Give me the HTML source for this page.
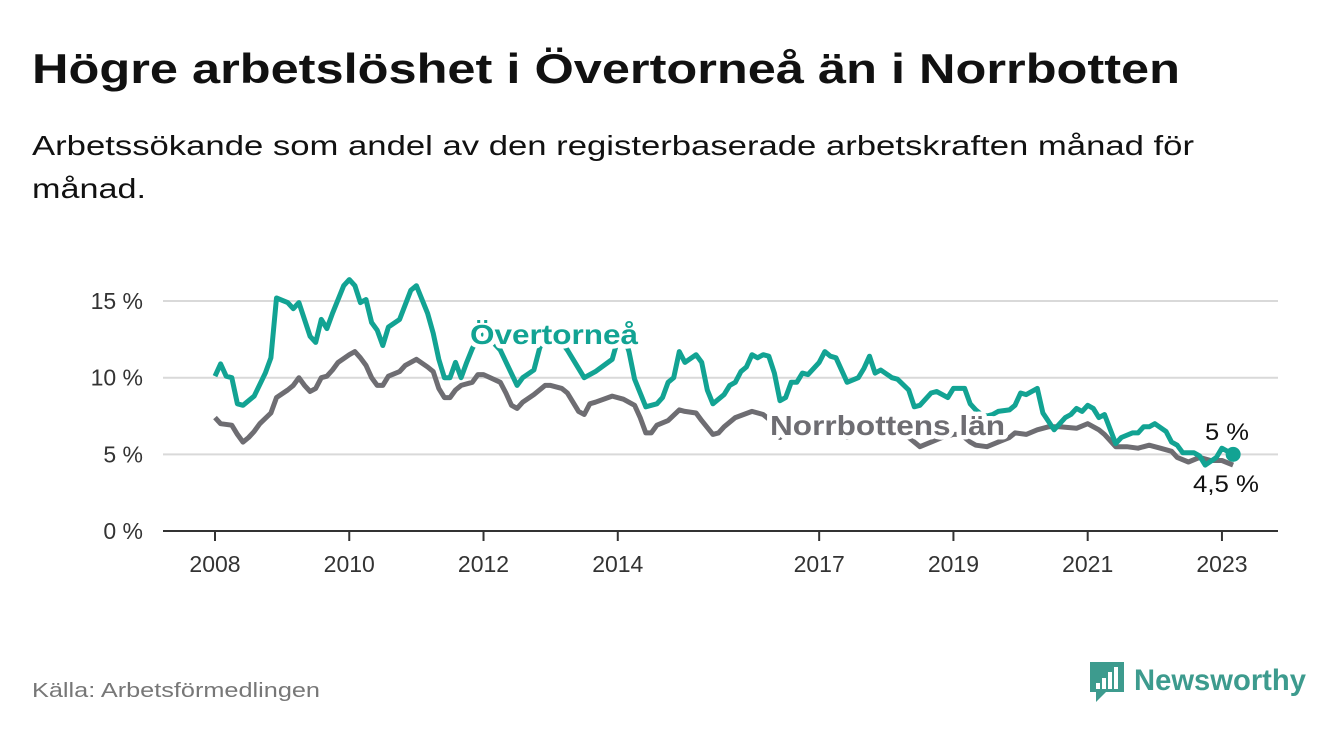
<!DOCTYPE html>
<html><head><meta charset="utf-8"><style>
body{margin:0;background:#fff;}
svg{display:block;font-family:"Liberation Sans",sans-serif;}
</style></head><body>
<svg width="1340" height="734" viewBox="0 0 1340 734">
<text x="32" y="83" font-size="42" font-weight="bold" fill="#111" textLength="1148" lengthAdjust="spacingAndGlyphs">Högre arbetslöshet i Övertorneå än i Norrbotten</text>
<text x="32" y="155" font-size="28" fill="#111" textLength="1162" lengthAdjust="spacingAndGlyphs">Arbetssökande som andel av den registerbaserade arbetskraften månad för</text>
<text x="32" y="198" font-size="28" fill="#111" textLength="114" lengthAdjust="spacingAndGlyphs">månad.</text>
<g id="grid"></g>
<g id="xaxis"></g>
<g id="lines"></g>
<text x="32" y="697" font-size="20" fill="#777" textLength="288" lengthAdjust="spacingAndGlyphs">Källa: Arbetsförmedlingen</text>
<g>
<path d="M1090 662 h34 v30 h-18 l-10 10 v-10 h-6 z" fill="#3d9b8e"/>
<rect x="1096" y="683" width="4" height="6" fill="#fff"/><rect x="1102" y="678" width="4" height="11" fill="#fff"/><rect x="1108" y="672" width="4" height="17" fill="#fff"/><rect x="1114" y="667" width="4" height="22" fill="#fff"/>
<text x="1134" y="690" font-size="30" font-weight="bold" fill="#3d9b8e" textLength="172" lengthAdjust="spacingAndGlyphs">Newsworthy</text>
</g>
</svg>
<script>
const yTicks=[0,5,10,15];
const yTickLabels=["0 %","5 %","10 %","15 %"];
const xTickYears=[2008,2010,2012,2014,2017,2019,2021,2023];
const overMonths=[0,1,2,3,4,5,7,9,10,11,13,14,15,17,18,19,20,21,23,24,25,26,27,28,29,30,31,33,35,36,38,39,40,41,42,43,44,45,46,47,48,49,50,51,54,55,57,58,59,60,61,62,63,66,68,71,72,73,74,75,77,79,80,81,82,83,84,86,87,88,89,91,92,93,94,95,96,97,98,99,100,101,102,103,104,105,106,108,109,110,111,113,115,116,117,118,119,121,122,124,125,126,128,129,131,132,134,135,136,137,138,139,140,142,143,144,145,147,148,150,151,152,153,154,155,156,157,158,159,161,162,164,165,166,167,168,170,171,172,173,175,176,177,179,180,182];
const overValues=[10.1,10.9,10.1,10.0,8.3,8.2,8.8,10.3,11.3,15.2,14.9,14.5,14.9,12.7,12.3,13.8,13.2,14.2,16.0,16.4,16.0,14.9,15.1,13.6,13.1,12.1,13.3,13.8,15.7,16.0,14.2,12.9,11.2,10.0,10.0,11.0,10.0,11.0,11.9,12.6,12.8,12.5,12.2,11.8,9.5,10.0,10.5,11.9,12.8,13.0,12.6,12.3,11.8,10.0,10.4,11.2,12.5,12.8,11.7,9.9,8.1,8.3,8.7,9.7,10.0,11.7,11.0,11.5,11.0,9.2,8.3,8.9,9.5,9.7,10.4,10.7,11.5,11.3,11.5,11.4,10.3,8.5,8.7,9.7,9.7,10.3,10.2,11.0,11.7,11.4,11.3,9.7,10.0,10.6,11.4,10.3,10.5,10.0,9.9,9.2,8.1,8.2,9.0,9.1,8.7,9.3,9.3,8.3,7.9,7.6,7.5,7.6,7.8,7.9,8.2,9.0,8.9,9.3,7.7,6.6,7.0,7.4,7.6,8.0,7.8,8.2,8.0,7.4,7.6,5.7,6.1,6.4,6.4,6.8,6.8,7.0,6.5,5.8,5.6,5.1,5.1,4.9,4.3,4.8,5.4,5.0];
const norrMonths=[0,1,3,4,5,6,7,8,10,11,13,14,15,16,17,18,19,20,21,22,24,25,26,27,28,29,30,31,33,34,36,38,39,40,41,42,43,44,46,47,48,51,52,53,54,55,57,59,60,62,63,65,66,67,68,71,73,75,76,77,78,79,81,83,84,86,87,89,90,91,93,96,98,100,101,103,105,107,109,111,113,116,118,120,122,124,125,126,128,130,132,133,134,135,136,138,140,142,143,145,147,149,151,154,156,158,159,161,163,165,167,169,171,172,174,176,178,180,182];
const norrValues=[7.4,7.0,6.9,6.3,5.8,6.1,6.5,7.0,7.7,8.7,9.2,9.5,10.0,9.5,9.1,9.3,10.0,10.1,10.5,11.0,11.5,11.7,11.3,10.8,10.0,9.5,9.5,10.1,10.4,10.8,11.2,10.7,10.4,9.3,8.7,8.7,9.2,9.5,9.7,10.2,10.2,9.7,9.0,8.2,8.0,8.4,8.9,9.5,9.5,9.3,9.0,7.8,7.6,8.3,8.4,8.8,8.6,8.2,7.4,6.4,6.4,6.9,7.2,7.9,7.8,7.7,7.2,6.3,6.4,6.8,7.4,7.8,7.6,7.0,6.1,6.6,7.0,7.2,7.0,6.6,6.1,6.5,6.9,6.7,6.3,6.1,5.8,5.5,5.8,6.1,6.3,6.3,6.1,5.8,5.6,5.5,5.8,6.1,6.4,6.3,6.6,6.8,6.8,6.7,7.0,6.6,6.3,5.5,5.5,5.4,5.6,5.4,5.2,4.8,4.5,4.8,4.6,4.6,4.3];
const NS="http://www.w3.org/2000/svg";
const X0=215,PXY=67.13;
function xm(m){return X0+m*PXY/12;}
function xy(yr){return X0+(yr-2008)*PXY;}
function yv(v){return 531-v*15.33;}
function mk(tag,attrs,parent){const e=document.createElementNS(NS,tag);for(const k in attrs)e.setAttribute(k,attrs[k]);parent.appendChild(e);return e;}
const grid=document.getElementById('grid');
yTicks.forEach((t,i)=>{
  if(t>0){const l=mk('line',{x1:163,x2:1278,y1:yv(t),y2:yv(t),stroke:'#d9d9d9','stroke-width':2},grid);
  
  }
  const tx=mk('text',{x:143,y:yv(t)+8,'font-size':23,fill:'#333','text-anchor':'end'},grid);
  tx.textContent=yTickLabels[i];
  
  
});
const xa=document.getElementById('xaxis');
const ax=mk('line',{x1:163,x2:1278,y1:531,y2:531,stroke:'#333','stroke-width':2},xa);


xTickYears.forEach(yr=>{
  const tk=mk('line',{x1:xy(yr),x2:xy(yr),y1:531,y2:541,stroke:'#333','stroke-width':2},xa);
  
  
  const t=mk('text',{x:xy(yr),y:572,'font-size':23,fill:'#333','text-anchor':'middle'},xa);
  t.textContent=yr;
  
  
});
const lg=document.getElementById('lines');
function path(ms,vs){return ms.map((m,i)=>(i?'L':'M')+xm(m).toFixed(1)+' '+yv(vs[i]).toFixed(1)).join(' ');}
const pn=mk('path',{d:path(norrMonths,norrValues),fill:'none',stroke:'#6e6d72','stroke-width':5,'stroke-linejoin':'round'},lg);


const po=mk('path',{d:path(overMonths,overValues),fill:'none',stroke:'#12a393','stroke-width':5,'stroke-linejoin':'round'},lg);


const lo=overMonths.length-1;
const dot=mk('circle',{cx:xm(overMonths[lo]),cy:yv(overValues[lo]),r:7.5,fill:'#12a393'},lg);


function label(txt,x,y,fill,size,bold,name,len){
  const t=mk('text',{x:x,y:y,'font-size':size,fill:fill,'font-weight':bold?'bold':'normal',stroke:'#fff','stroke-width':9,'paint-order':'stroke','stroke-linejoin':'round'},lg);
  if(len){t.setAttribute('textLength',len);t.setAttribute('lengthAdjust','spacingAndGlyphs');}
  t.textContent=txt;
  
  
  return t;
}
label('Övertorneå',470,344,'#12a393',28,true,'overtornea-label',168);
label('Norrbottens län',770,435,'#6e6d72',28,true,'norrbotten-label',235);
label('5 %',1205,440,'#111',24,false,'overtornea-end-value',44);
label('4,5 %',1193,492,'#111',24,false,'norrbotten-end-value',66);
</script>
</body></html>
